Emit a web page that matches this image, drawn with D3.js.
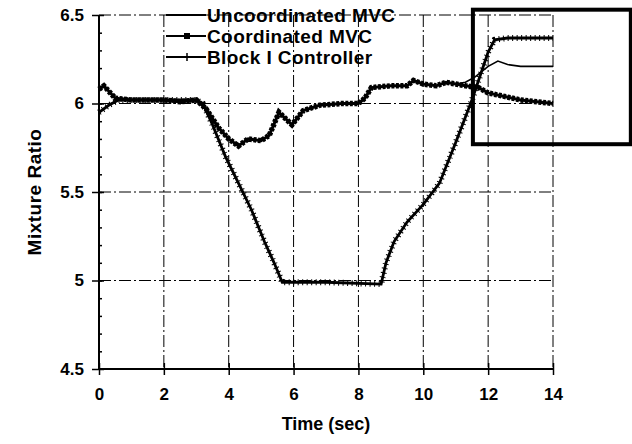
<!DOCTYPE html>
<html>
<head>
<meta charset="utf-8">
<script src="https://cdn.jsdelivr.net/npm/d3@7"></script>
<style>
body { margin: 0; background: #fff; }
text { font-family: "Liberation Sans", Arial, sans-serif; fill: #000; }
</style>
</head>
<body>
<div id="chart"></div>
<script>
// series
var coordTime  = [0, 0.15, 0.5, 1, 2, 2.5, 3.0, 3.3, 3.7, 4.0, 4.3, 4.6, 5.0, 5.25, 5.55, 5.95, 6.3, 6.8, 7.5, 8.0, 8.2, 8.4, 9.0, 9.5, 9.7, 10.0, 10.4, 10.7, 11.0, 11.3, 11.7, 12.0, 12.5, 13.0, 13.5, 14];
var coordRatio = [6.08, 6.1, 6.03, 6.02, 6.02, 6.01, 6.02, 5.97, 5.86, 5.8, 5.76, 5.8, 5.79, 5.82, 5.95, 5.88, 5.96, 5.99, 6.0, 6.0, 6.03, 6.09, 6.1, 6.1, 6.13, 6.11, 6.1, 6.12, 6.11, 6.1, 6.09, 6.06, 6.04, 6.02, 6.01, 6.0];

var uncoordTime  = [0, 0.15, 0.5, 1, 2, 2.5, 3.0, 3.3, 3.7, 4.0, 4.3, 4.6, 5.0, 5.25, 5.55, 5.95, 6.3, 6.8, 7.5, 8.0, 8.2, 8.4, 9.0, 9.5, 9.7, 10.0, 10.4, 10.7, 11.0, 11.3, 11.6, 12.0, 12.3, 12.6, 13.0, 14];
var uncoordRatio = [6.08, 6.1, 6.03, 6.02, 6.02, 6.01, 6.02, 5.97, 5.86, 5.8, 5.76, 5.8, 5.79, 5.82, 5.95, 5.88, 5.96, 5.99, 6.0, 6.0, 6.03, 6.09, 6.1, 6.1, 6.13, 6.11, 6.1, 6.12, 6.11, 6.12, 6.15, 6.21, 6.24, 6.22, 6.21, 6.21];

var blockTime  = [0, 0.3, 0.6, 1, 2, 3.0, 3.2, 3.5, 3.9, 4.3, 4.7, 5.1, 5.4, 5.65, 7, 8.7, 8.85, 9.1, 9.5, 10.0, 10.5, 11.0, 11.5, 12.0, 12.2, 12.6, 14];
var blockRatio = [5.95, 5.99, 6.02, 6.02, 6.02, 6.02, 6.0, 5.88, 5.7, 5.55, 5.4, 5.22, 5.1, 4.99, 4.99, 4.98, 5.1, 5.22, 5.33, 5.43, 5.55, 5.78, 6.02, 6.29, 6.36, 6.37, 6.37];

var seriesNames = ["Uncoordinated MVC", "Coordinated MVC", "Block I Controller"];
var xTicks = [0, 2, 4, 6, 8, 10, 12, 14];
var yTicks = [4.5, 5, 5.5, 6, 6.5];

// the heavy highlight box drawn on the scan (data units)
var boxTime  = [11.53, 16.4];
var boxRatio = [5.77, 6.53];

var width = 632, height = 444;

var svg = d3.select("#chart")
    .append("svg")
    .attr("width", width)
    .attr("height", height);

var x = d3.scaleLinear().domain([0, 14]).range([99, 553]);
var y = d3.scaleLinear().domain([4.5, 6.5]).range([369, 15]);

var gridDash = "12,3,2,3";

// grid
svg.append("g").selectAll("line")
    .data(xTicks.slice(1))
    .enter().append("line")
    .attr("x1", function (d) { return x(d); })
    .attr("x2", function (d) { return x(d); })
    .attr("y1", y(6.5))
    .attr("y2", y(4.5))
    .attr("stroke", "#000")
    .attr("stroke-width", 1)
    .attr("stroke-dasharray", gridDash);

svg.append("g").selectAll("line")
    .data(yTicks.slice(1))
    .enter().append("line")
    .attr("x1", x(0))
    .attr("x2", x(14))
    .attr("y1", function (d) { return y(d); })
    .attr("y2", function (d) { return y(d); })
    .attr("stroke", "#000")
    .attr("stroke-width", 1)
    .attr("stroke-dasharray", gridDash);

// axes
var xAxis = svg.append("g")
    .attr("transform", "translate(0," + y(4.5) + ")")
    .call(d3.axisBottom(x).tickValues(xTicks).tickSize(6).tickPadding(13).tickFormat(function (d) { return d; }));
xAxis.select(".domain").attr("stroke-width", 2).attr("d", "M" + x(0) + ",0H" + x(14));
xAxis.selectAll(".tick line").attr("y1", -6).attr("y2", 6).attr("stroke-width", 1.5);
xAxis.selectAll("text").style("font-size", "17px").style("font-weight", "bold").style("font-family", "Liberation Sans, Arial, sans-serif");

var yAxis = svg.append("g")
    .attr("transform", "translate(" + x(0) + ",0)")
    .call(d3.axisLeft(y).tickValues(yTicks).tickSize(6).tickPadding(9).tickFormat(function (d) { return d; }));
yAxis.select(".domain").attr("stroke-width", 2).attr("d", "M0," + y(4.5) + "V" + y(6.5));
yAxis.selectAll(".tick line").attr("x1", -7).attr("x2", 5).attr("stroke-width", 1.5);
yAxis.selectAll("text").style("font-size", "17px").style("font-weight", "bold").style("font-family", "Liberation Sans, Arial, sans-serif");

// minor ticks on the y axis
var minor = svg.append("g")
    .attr("transform", "translate(" + x(0) + ",0)")
    .call(d3.axisRight(y).tickValues(d3.range(4.6, 6.45, 0.1)).tickSize(3).tickFormat(""));
minor.select(".domain").remove();
minor.selectAll(".tick line").attr("stroke-width", 1.5);

// titles
svg.append("text")
    .attr("transform", "translate(41," + (y(5.5)) + ") rotate(-90)")
    .attr("text-anchor", "middle")
    .style("font-size", "19px")
    .style("font-weight", "bold")
    .style("letter-spacing", "0.5px")
    .text("Mixture Ratio");

svg.append("text")
    .attr("x", x(7))
    .attr("y", 430)
    .attr("text-anchor", "middle")
    .style("font-size", "18px")
    .style("font-weight", "bold")
    .text("Time (sec)");

// lines
var line = d3.line()
    .x(function (d) { return x(d[0]); })
    .y(function (d) { return y(d[1]); });

var block = d3.zip(blockTime, blockRatio);
var uncoord = d3.zip(uncoordTime, uncoordRatio);
var coord = d3.zip(coordTime, coordRatio);

// Block I Controller: line with + markers
svg.append("path")
    .attr("d", line(block))
    .attr("fill", "none")
    .attr("stroke", "#000")
    .attr("stroke-width", 2.8);
svg.append("path")
    .attr("d", line(block))
    .attr("fill", "none")
    .attr("stroke", "#000")
    .attr("stroke-width", 6)
    .attr("stroke-dasharray", "1,3.5");

// Uncoordinated MVC: plain line
svg.append("path")
    .attr("d", line(uncoord))
    .attr("fill", "none")
    .attr("stroke", "#000")
    .attr("stroke-width", 1.6);

// Coordinated MVC: line with square markers
svg.append("path")
    .attr("d", line(coord))
    .attr("fill", "none")
    .attr("stroke", "#000")
    .attr("stroke-width", 3);
svg.append("path")
    .attr("d", line(coord))
    .attr("fill", "none")
    .attr("stroke", "#000")
    .attr("stroke-width", 5.5)
    .attr("stroke-dasharray", "3,1.5");

// highlight box
svg.append("rect")
    .attr("x", x(boxTime[0]))
    .attr("y", y(boxRatio[1]))
    .attr("width", x(boxTime[1]) - x(boxTime[0]))
    .attr("height", y(boxRatio[0]) - y(boxRatio[1]))
    .attr("fill", "none")
    .attr("stroke", "#000")
    .attr("stroke-width", 4);

// legend
var legend = svg.append("g").selectAll("g")
    .data(seriesNames)
    .enter().append("g")
    .attr("transform", function (d, i) { return "translate(166," + (15 + i * 21) + ")"; });

legend.append("line")
    .attr("x1", 0).attr("x2", 40)
    .attr("stroke", "#000")
    .attr("stroke-width", 2);

legend.filter(function (d, i) { return i == 1; })
    .append("rect")
    .attr("x", 18).attr("y", -3)
    .attr("width", 6).attr("height", 6)
    .attr("fill", "#000");

legend.filter(function (d, i) { return i == 2; })
    .append("path")
    .attr("d", "M21,-4V4M17,0H25")
    .attr("stroke", "#000")
    .attr("stroke-width", 1.5);

legend.append("text")
    .attr("x", 41)
    .attr("dy", "0.36em")
    .style("font-size", "19px")
    .style("font-weight", "bold")
    .style("letter-spacing", "0.4px")
    .text(function (d) { return d; });
</script>
</body>
</html>
